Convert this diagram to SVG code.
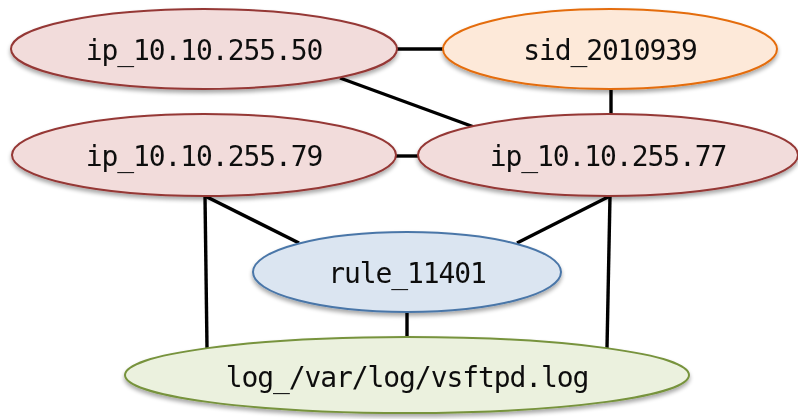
<svg xmlns="http://www.w3.org/2000/svg" width="798" height="419" viewBox="0 0 798 419">
  <defs>
    <filter id="shadow" x="-10%" y="-20%" width="120%" height="150%">
      <feGaussianBlur in="SourceAlpha" stdDeviation="2"/>
      <feOffset dx="0" dy="3" result="b"/>
      <feComponentTransfer><feFuncA type="linear" slope="0.35"/></feComponentTransfer>
      <feMerge><feMergeNode/><feMergeNode in="SourceGraphic"/></feMerge>
    </filter>
    <style>
      .ip   { fill: #f2dcdb; stroke: #953735; stroke-width: 2; }
      .sid  { fill: #fde9d9; stroke: #e46c0a; stroke-width: 2; }
      .rule { fill: #dbe5f1; stroke: #4a76a8; stroke-width: 2; }
      .log  { fill: #ebf1de; stroke: #77933c; stroke-width: 2; }
      .lbl  { font-family: "DejaVu Sans Mono", "Liberation Mono", monospace; font-size: 28px; letter-spacing: -1.1px; fill: #111; text-anchor: middle; }
      .edge { stroke: #000; stroke-width: 3.4; fill: none; }
    </style>
  </defs>
  <rect width="798" height="419" fill="#fff"/>

  <g id="connectors">
    <line class="edge" x1="397" y1="49" x2="443" y2="49"/>
    <line class="edge" x1="340" y1="78" x2="474" y2="127"/>
    <line class="edge" x1="611" y1="89" x2="611" y2="115"/>
    <line class="edge" x1="396" y1="156" x2="418" y2="156"/>
    <line class="edge" x1="205" y1="196" x2="299" y2="243"/>
    <line class="edge" x1="205" y1="196" x2="207" y2="348"/>
    <line class="edge" x1="610" y1="196" x2="517" y2="243"/>
    <line class="edge" x1="610" y1="196" x2="607" y2="348"/>
    <line class="edge" x1="407" y1="312" x2="407" y2="338"/>
  </g>

  <g id="ip_10.10.255.50" filter="url(#shadow)">
    <ellipse class="ip" cx="204" cy="49" rx="193" ry="40"/>
    <text class="lbl" x="204" y="60">ip_10.10.255.50</text>
  </g>
  <g id="sid_2010939" filter="url(#shadow)">
    <ellipse class="sid" cx="610" cy="49" rx="167" ry="40"/>
    <text class="lbl" x="610" y="60">sid_2010939</text>
  </g>
  <g id="ip_10.10.255.79" filter="url(#shadow)">
    <ellipse class="ip" cx="204" cy="155" rx="192" ry="41"/>
    <text class="lbl" x="204" y="166">ip_10.10.255.79</text>
  </g>
  <g id="ip_10.10.255.77" filter="url(#shadow)">
    <ellipse class="ip" cx="608" cy="155" rx="190" ry="41"/>
    <text class="lbl" x="608" y="166">ip_10.10.255.77</text>
  </g>
  <g id="rule_11401" filter="url(#shadow)">
    <ellipse class="rule" cx="407" cy="272" rx="154" ry="40"/>
    <text class="lbl" x="407" y="283">rule_11401</text>
  </g>
  <g id="log_vsftpd" filter="url(#shadow)">
    <ellipse class="log" cx="407" cy="375" rx="282" ry="38"/>
    <text class="lbl" x="407" y="387">log_/var/log/vsftpd.log</text>
  </g>
</svg>
